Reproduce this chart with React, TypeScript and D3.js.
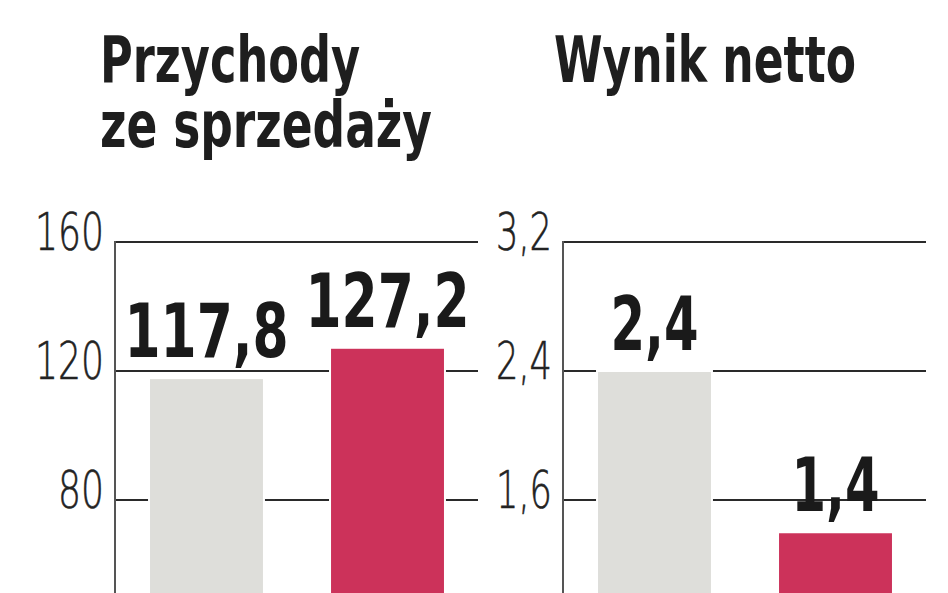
import React from "react";
import * as d3 from "d3";

// ---- data ----
const categories = ["poprzedni okres", "bieżący okres"];
const revenueValues = [117.8, 127.2];
const netIncomeValues = [2.4, 1.4];
const revenueTicks = [80, 120, 160];
const netIncomeTicks = [1.6, 2.4, 3.2];
const revenueTitle = ["Przychody", "ze sprzedaży"];
const netIncomeTitle = ["Wynik netto"];
const barColors = ["#dededa", "#cc325a"];

// ---- layout ----
const W = 948;
const H = 593;
const Y_ZERO = 758;
const Y_TOP = 242;
const PANEL_W = 364;
const NARROW = "'Liberation Sans Narrow', 'DejaVu Sans Condensed', 'Arial Narrow', sans-serif";
const LIGHT = "'DejaVu Sans', sans-serif";

const fmt = (v: number, dec: number) => v.toFixed(dec).replace(".", ",");

// approximate text widths for textLength (condensed font metrics)
const widthOf = (s: string, digit: number, comma: number) =>
  s.split("").reduce((a, c) => a + (c === "," ? comma : digit), 0);

type PanelProps = {
  x0: number;
  values: number[];
  ticks: number[];
  max: number;
  dec: number;
  title: string[];
  titleX: number;
  titleWidths: number[];
};

function Panel({ x0, values, ticks, max, dec, title, titleX, titleWidths }: PanelProps) {
  const y = d3.scaleLinear().domain([0, max]).range([Y_ZERO, Y_TOP]);
  const x = d3
    .scaleBand<string>()
    .domain(categories)
    .range([x0, x0 + PANEL_W])
    .paddingInner(0.365)
    .paddingOuter(0.188);
  return (
    <g>
      {title.map((t, i) => (
        <text
          key={t}
          x={titleX}
          y={82 + i * 65}
          fontFamily={NARROW}
          fontWeight="bold"
          fontSize={64}
          fill="#1e1e1e"
          textLength={titleWidths[i]}
          lengthAdjust="spacingAndGlyphs"
        >
          {t}
        </text>
      ))}
      {ticks.map((t) => (
        <g key={t}>
          <line x1={x0} x2={x0 + PANEL_W - 1} y1={y(t)} y2={y(t)} stroke="#2a2a2a" strokeWidth={2} />
          <text
            x={x0 - 11}
            y={y(t) + 8}
            textAnchor="end"
            fontFamily={LIGHT}
            fontWeight={200}
            fontSize={51}
            fill="#222"
            stroke="#222"
            strokeWidth={0.6}
            textLength={widthOf(fmt(t, dec === 0 ? 0 : 1), 23, 10)}
            lengthAdjust="spacingAndGlyphs"
          >
            {fmt(t, dec === 0 ? 0 : 1)}
          </text>
        </g>
      ))}
      <line x1={x0} x2={x0} y1={Y_TOP - 1} y2={H} stroke="#555" strokeWidth={2} />
      {values.map((v, i) => (
        <rect
          key={categories[i]}
          x={x(categories[i])!}
          y={y(v)}
          width={x.bandwidth()}
          height={H - y(v) + 5}
          fill={barColors[i]}
          stroke="#fff"
          strokeWidth={2}
        />
      ))}
      {values.map((v, i) => {
        const s = fmt(v, 1);
        return (
          <text
            key={"l" + i}
            x={x(categories[i])! + x.bandwidth() / 2}
            y={y(v) - 21}
            textAnchor="middle"
            fontFamily={NARROW}
            fontWeight="bold"
            fontSize={75}
            fill="#1a1a1a"
            textLength={widthOf(s, 38, 12)}
            lengthAdjust="spacingAndGlyphs"
          >
            {s}
          </text>
        );
      })}
    </g>
  );
}

export default function App() {
  return (
    <svg
      width={W}
      height={H}
      viewBox={`0 0 ${W} ${H}`}
      style={{ position: "absolute", left: 0, top: 0, background: "#fff", display: "block" }}
    >
      <rect x={0} y={0} width={W} height={H} fill="#fff" />
      <Panel
        x0={115}
        values={revenueValues}
        ticks={revenueTicks}
        max={160}
        dec={0}
        title={revenueTitle}
        titleX={100}
        titleWidths={[260, 332]}
      />
      <Panel
        x0={563}
        values={netIncomeValues}
        ticks={netIncomeTicks}
        max={3.2}
        dec={1}
        title={netIncomeTitle}
        titleX={554}
        titleWidths={[302]}
      />
    </svg>
  );
}
